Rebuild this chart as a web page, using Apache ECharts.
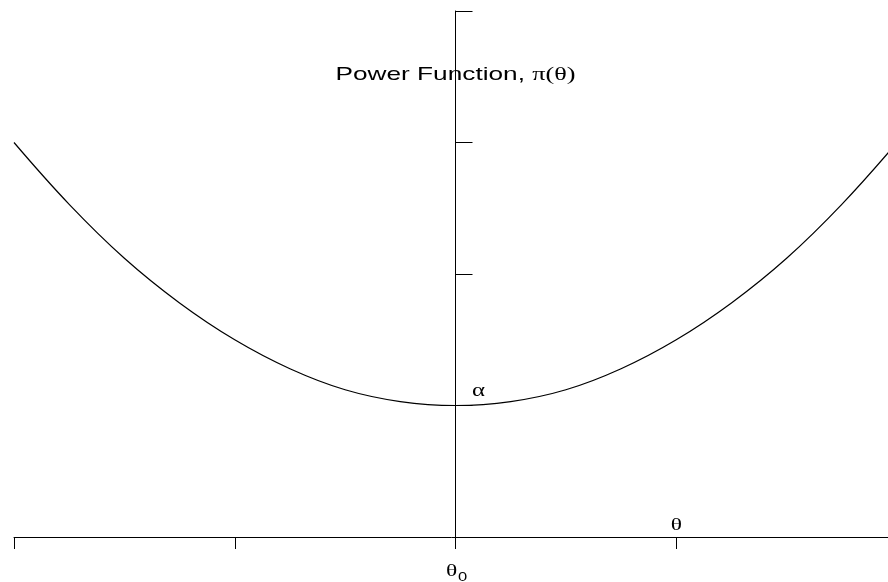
<!DOCTYPE html>
<html>
<head>
<meta charset="utf-8">
<title>Power Function</title>
<script src="https://cdn.jsdelivr.net/npm/echarts@6/dist/echarts.min.js"></script>
<style>
    html, body { margin: 0; padding: 0; background: #fff; }
    #chart1 { width: 888px; height: 582px; }
</style>
</head>
<body>
<div id="chart1"></div>
<script>
// theta (in steps from theta0) and power pi(theta)
var thetaVals = [-2, -1.75, -1.5, -1.25, -1, -0.75, -0.5, -0.25, 0, 0.25, 0.5, 0.75, 1, 1.25, 1.5, 1.75, 2];
var powerVals = [3.0, 2.53, 2.12, 1.78, 1.5, 1.28, 1.12, 1.03, 1.0, 1.03, 1.12, 1.28, 1.5, 1.78, 2.12, 2.53, 3.0];
var alphaLevel = 1.0;
var thetaMark = 1;

// the original picture is stretched sideways, so the text is too
var stretch = 1.38;

var curve = [];
for (var i = 0; i < thetaVals.length; i++) {
    curve.push([thetaVals[i], powerVals[i]]);
}

var myChart1 = echarts.init(document.getElementById('chart1'));
myChart1.setOption({
    animation: false,
    backgroundColor: '#fff',
    // plot runs a little past the right edge of the picture
    grid: { left: 14, right: -9, top: 11, bottom: 45, outerBoundsMode: 'none', containLabel: false },
    xAxis: {
        type: 'value',
        min: -2, max: 2, interval: 1,
        axisLine: { onZero: false, lineStyle: { color: '#000', width: 1 } },
        axisTick: { length: 12, lineStyle: { color: '#000', width: 1 } },
        axisLabel: { show: false },
        splitLine: { show: false }
    },
    yAxis: {
        type: 'value',
        min: 0, max: 4, interval: 1,
        axisLine: { show: true, onZero: true, lineStyle: { color: '#000', width: 1 } },
        axisTick: { show: true, inside: true, length: 17, lineStyle: { color: '#000', width: 1 } },
        axisLabel: { show: false },
        splitLine: { show: false }
    },
    series: [{
        name: 'power',
        type: 'line',
        data: curve,
        smooth: 0.4,
        showSymbol: false,
        lineStyle: { color: '#000', width: 1.2 }
    }]
});

var origin = myChart1.convertToPixel({ gridIndex: 0 }, [0, 0]);
var alphaPt = myChart1.convertToPixel({ gridIndex: 0 }, [0, alphaLevel]);
var thetaPt = myChart1.convertToPixel({ gridIndex: 0 }, [thetaMark, 0]);

function label(x, y, text, size, family) {
    return {
        type: 'text',
        x: x, y: y,
        scaleX: stretch,
        silent: true,
        style: {
            text: text,
            fontSize: size,
            fontFamily: family,
            fill: '#000',
            align: 'center',
            verticalAlign: 'middle'
        }
    };
}

var title = label(origin[0], 75, 'Power Function, {g|π(θ)}', 19, 'Liberation Sans');
title.style.rich = { g: { fontSize: 19, fontFamily: 'Liberation Serif' } };

myChart1.setOption({
    graphic: [
        title,
        label(alphaPt[0] + 23, alphaPt[1] - 14, 'α', 18, 'Liberation Serif'),
        label(thetaPt[0], thetaPt[1] - 11, 'θ', 17, 'Liberation Serif'),
        label(origin[0] - 4, origin[1] + 35, 'θ', 17, 'Liberation Serif'),
        label(origin[0] + 7, origin[1] + 41, '0', 12, 'Liberation Sans')
    ]
});
</script>
</body>
</html>
